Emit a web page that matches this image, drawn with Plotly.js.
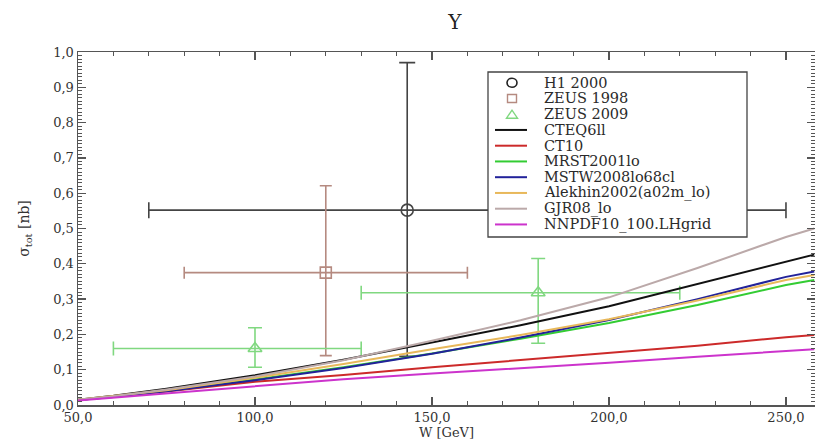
<!DOCTYPE html>
<html>
<head>
<meta charset="utf-8">
<script src="https://cdn.plot.ly/plotly-3.0.1.min.js"></script>
<style>html,body{margin:0;padding:0;background:#fff;}#chart{width:815px;height:441px;}</style>
</head>
<body>
<div id="chart"></div>
<script>
// Measurements
const h1W = [143], h1S = [0.552], h1Wlo = [73], h1Whi = [107], h1Slo = [0.414], h1Shi = [0.418];
const z98W = [120], z98S = [0.375], z98Wlo = [40], z98Whi = [40], z98Slo = [0.235], z98Shi = [0.246];
const z09W = [100, 180], z09S = [0.160, 0.318], z09Wlo = [40, 50], z09Whi = [30, 40], z09Slo = [0.053, 0.143], z09Shi = [0.059, 0.097];

// Theory curves
const Wgrid    = [50, 60, 75, 100, 125, 150, 175, 200, 225, 250, 258];
const cteq6ll  = [0.015, 0.026, 0.046, 0.084, 0.128, 0.178, 0.226, 0.280, 0.342, 0.406, 0.426];
const ct10     = [0.014, 0.024, 0.038, 0.066, 0.085, 0.107, 0.127, 0.146, 0.168, 0.192, 0.198];
const mrst2001 = [0.014, 0.023, 0.040, 0.072, 0.107, 0.146, 0.188, 0.232, 0.283, 0.340, 0.354];
const mstw2008 = [0.014, 0.023, 0.039, 0.070, 0.105, 0.145, 0.191, 0.241, 0.300, 0.363, 0.378];
const alekhin  = [0.015, 0.025, 0.042, 0.077, 0.116, 0.158, 0.198, 0.243, 0.296, 0.354, 0.368];
const gjr08    = [0.015, 0.025, 0.044, 0.081, 0.127, 0.182, 0.240, 0.305, 0.388, 0.476, 0.500];
const nnpdf10  = [0.013, 0.021, 0.033, 0.055, 0.073, 0.089, 0.104, 0.120, 0.137, 0.153, 0.158];

const pointNames = ['H1 2000', 'ZEUS 1998', 'ZEUS 2009'];
const pointColors = ['#444444', '#b58a80', '#80d880'];
const curveNames = ['CTEQ6ll', 'CT10', 'MRST2001lo', 'MSTW2008lo68cl', 'Alekhin2002(a02m_lo)', 'GJR08_lo', 'NNPDF10_100.LHgrid'];
const curveColors = ['#111111', '#cc2a2a', '#33cc33', '#22229a', '#e8b85a', '#bba9a9', '#cc33cc'];
const curveData = [cteq6ll, ct10, mrst2001, mstw2008, alekhin, gjr08, nnpdf10];

const serif = 'DejaVu Serif';

function pts(name, x, y, xlo, xhi, ylo, yhi, color, symbol, size, cap) {
  return {
    name: name, x: x, y: y, type: 'scatter', mode: 'markers', showlegend: false,
    marker: {symbol: symbol, size: size, color: color, line: {color: color, width: 1.6}},
    error_x: {type: 'data', array: xhi, arrayminus: xlo, color: color, thickness: 1.6, width: cap},
    error_y: {type: 'data', array: yhi, arrayminus: ylo, color: color, thickness: 1.6, width: cap},
    cliponaxis: false
  };
}

const data = [
  pts(pointNames[0], h1W, h1S, h1Wlo, h1Whi, h1Slo, h1Shi, pointColors[0], 'circle-open', 12, 8),
  pts(pointNames[1], z98W, z98S, z98Wlo, z98Whi, z98Slo, z98Shi, pointColors[1], 'square-open', 11, 6),
  pts(pointNames[2], z09W, z09S, z09Wlo, z09Whi, z09Slo, z09Shi, pointColors[2], 'triangle-up-open', 12, 7)
];
curveNames.forEach((n, i) => data.push({
  name: n, x: Wgrid, y: curveData[i], type: 'scatter', mode: 'lines', showlegend: false,
  line: {color: curveColors[i], width: 2}
}));

// Legend box drawn in paper coordinates (plot area: x 78..815 px, y 52..405 px)
const PL = 78, PR = 815, PT = 52, PB = 405;
const px = v => (v - PL) / (PR - PL);
const py = v => (PB - v) / (PB - PT);
const shapes = [];
const annotations = [];
shapes.push({type: 'rect', xref: 'paper', yref: 'paper', x0: px(488), x1: px(747), y0: py(237), y1: py(72),
  line: {color: '#444', width: 1.3}, fillcolor: '#fff', layer: 'above'});
const allNames = pointNames.concat(curveNames);
allNames.forEach((n, k) => {
  const yc = 82.7 + 15.75 * k;
  annotations.push({xref: 'paper', yref: 'paper', x: px(542), y: py(yc), xanchor: 'left', yanchor: 'middle',
    text: n, showarrow: false, font: {family: serif, size: 14.5, color: '#2a2a2a'}});
  if (k === 0) {
    shapes.push({type: 'circle', xref: 'paper', yref: 'paper', x0: px(507), x1: px(517), y0: py(yc + 4.5), y1: py(yc - 4.5),
      line: {color: '#222', width: 1.6}, layer: 'above'});
  } else if (k === 1) {
    shapes.push({type: 'rect', xref: 'paper', yref: 'paper', x0: px(507.5), x1: px(516.5), y0: py(yc + 4), y1: py(yc - 4),
      line: {color: pointColors[1], width: 1.4}, layer: 'above'});
  } else if (k === 2) {
    const p = `M ${px(506.5)},${py(yc + 4)} L ${px(517.5)},${py(yc + 4)} L ${px(512)},${py(yc - 4)} Z`;
    shapes.push({type: 'path', xref: 'paper', yref: 'paper', path: p,
      line: {color: pointColors[2], width: 1.4}, layer: 'above'});
  } else {
    shapes.push({type: 'line', xref: 'paper', yref: 'paper', x0: px(495), x1: px(527), y0: py(yc), y1: py(yc),
      line: {color: curveColors[k - 3], width: 2}, layer: 'above'});
  }
});

const axisCommon = {
  showline: true, linecolor: '#555', linewidth: 1.5, mirror: 'allticks',
  ticks: 'inside', ticklen: 8, tickwidth: 1.3, tickcolor: '#555',
  showgrid: false, zeroline: false, tickformat: '.1f',
  tickfont: {family: serif, size: 13, color: '#333'}
};

const layout = {
  width: 815, height: 441,
  margin: {l: PL, r: 0, t: PT, b: 441 - PB},
  paper_bgcolor: '#fff', plot_bgcolor: '#fff',
  font: {family: serif, size: 13, color: '#333'},
  separators: ',.',
  showlegend: false,
  shapes: shapes,
  annotations: annotations,
  title: {text: 'Y', x: 0.5115, xref: 'paper', y: 0.95, yref: 'container', yanchor: 'middle',
          font: {family: serif, size: 20, color: '#222'}},
  xaxis: Object.assign({}, axisCommon, {
    range: [50, 258.2], dtick: 50, tick0: 50,
    minor: {dtick: 10, ticks: 'inside', ticklen: 4, tickcolor: '#555', tickwidth: 1},
    title: {text: 'W [GeV]', font: {family: serif, size: 13, color: '#333'}, standoff: 1}
  }),
  yaxis: Object.assign({}, axisCommon, {
    range: [0, 1.0], dtick: 0.1, tick0: 0,
    minor: {dtick: 0.01, ticks: 'inside', ticklen: 4, tickcolor: '#555', tickwidth: 1},
    title: {text: 'σ<sub>tot</sub> [nb]', font: {family: serif, size: 14, color: '#333'}, standoff: 20}
  })
};

Plotly.newPlot('chart', data, layout, {displayModeBar: false, staticPlot: true});
</script>
</body>
</html>
